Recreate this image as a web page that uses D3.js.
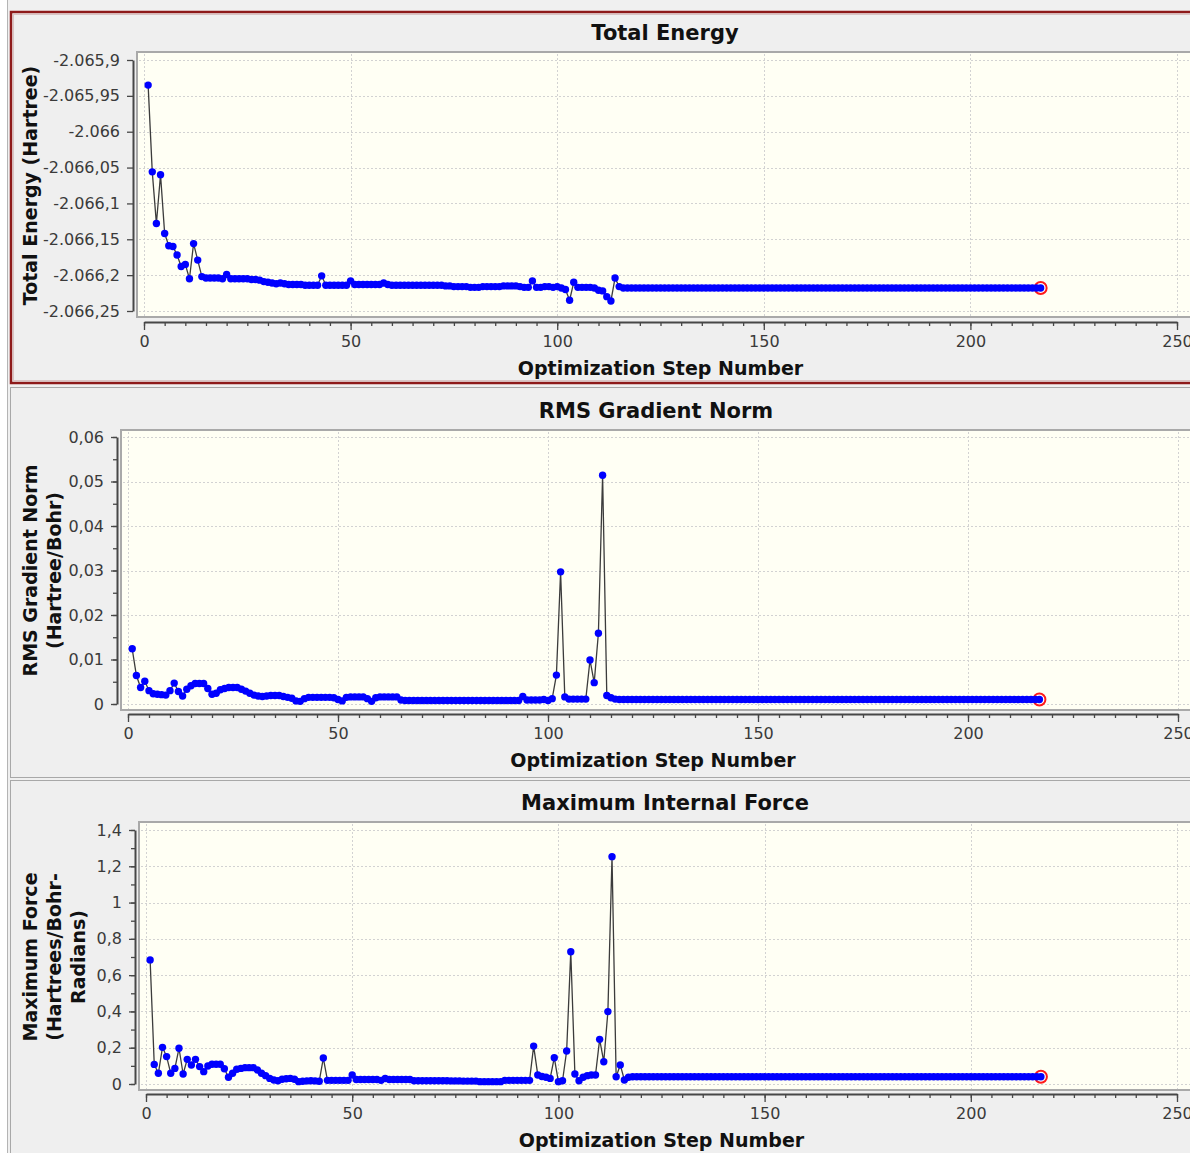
<!DOCTYPE html>
<html>
<head>
<meta charset="utf-8">
<script src="https://cdn.jsdelivr.net/npm/d3@7"></script>
<style>
  body { margin: 0; background: #ffffff; }
  svg { display: block; }
</style>
</head>
<body>
<div id="chart"></div>
<script>
// Optimization data, one value per step (step 1 .. 217)
var energy = [
  -2.065935, -2.066056, -2.066128, -2.066060, -2.066142, -2.066159, -2.066160, -2.066172, -2.066188, -2.066185,
  -2.066205, -2.066156, -2.066179, -2.066202, -2.066204, -2.066204, -2.066204, -2.066204, -2.066205, -2.066199,
  -2.066205, -2.066205, -2.066205, -2.066205, -2.066205, -2.066206, -2.066206, -2.066207, -2.066209, -2.066210,
  -2.066211, -2.066212, -2.066211, -2.066212, -2.066213, -2.066213, -2.066213, -2.066213, -2.066214, -2.066214,
  -2.066214, -2.066214, -2.066201, -2.066214, -2.066214, -2.066214, -2.066214, -2.066214, -2.066214, -2.066208,
  -2.066213, -2.066213, -2.066213, -2.066213, -2.066213, -2.066213, -2.066213, -2.066211, -2.066213, -2.066214,
  -2.066214, -2.066214, -2.066214, -2.066214, -2.066214, -2.066214, -2.066214, -2.066214, -2.066214, -2.066214,
  -2.066214, -2.066214, -2.066215, -2.066215, -2.066216, -2.066216, -2.066216, -2.066216, -2.066217, -2.066217,
  -2.066217, -2.066216, -2.066216, -2.066216, -2.066216, -2.066216, -2.066215, -2.066215, -2.066215, -2.066215,
  -2.066216, -2.066217, -2.066217, -2.066208, -2.066217, -2.066217, -2.066216, -2.066216, -2.066217, -2.066216,
  -2.066218, -2.066220, -2.066235, -2.066210, -2.066217, -2.066217, -2.066217, -2.066217, -2.066218, -2.066221,
  -2.066222, -2.066230, -2.066236, -2.066204, -2.066216, -2.066218, -2.066218, -2.066218, -2.066218, -2.066218,
  -2.066218, -2.066218, -2.066218, -2.066218, -2.066218, -2.066218, -2.066218, -2.066218, -2.066218, -2.066218,
  -2.066218, -2.066218, -2.066218, -2.066218, -2.066218, -2.066218, -2.066218, -2.066218, -2.066218, -2.066218,
  -2.066218, -2.066218, -2.066218, -2.066218, -2.066218, -2.066218, -2.066218, -2.066218, -2.066218, -2.066218,
  -2.066218, -2.066218, -2.066218, -2.066218, -2.066218, -2.066218, -2.066218, -2.066218, -2.066218, -2.066218,
  -2.066218, -2.066218, -2.066218, -2.066218, -2.066218, -2.066218, -2.066218, -2.066218, -2.066218, -2.066218,
  -2.066218, -2.066218, -2.066218, -2.066218, -2.066218, -2.066218, -2.066218, -2.066218, -2.066218, -2.066218,
  -2.066218, -2.066218, -2.066218, -2.066218, -2.066218, -2.066218, -2.066218, -2.066218, -2.066218, -2.066218,
  -2.066218, -2.066218, -2.066218, -2.066218, -2.066218, -2.066218, -2.066218, -2.066218, -2.066218, -2.066218,
  -2.066218, -2.066218, -2.066218, -2.066218, -2.066218, -2.066218, -2.066218, -2.066218, -2.066218, -2.066218,
  -2.066218, -2.066218, -2.066218, -2.066218, -2.066218, -2.066218, -2.066218
];

var rmsGrad = [
  0.0124, 0.0064, 0.0037, 0.0051, 0.0030, 0.0023, 0.0022, 0.0021, 0.0020, 0.0030,
  0.0047, 0.0028, 0.0018, 0.0033, 0.0041, 0.0046, 0.0046, 0.0046, 0.0035, 0.0022,
  0.0024, 0.0032, 0.0035, 0.0037, 0.0037, 0.0037, 0.0033, 0.0029, 0.0024, 0.0020,
  0.0018, 0.0017, 0.0018, 0.0019, 0.0019, 0.0019, 0.0017, 0.0015, 0.0013, 0.0007,
  0.0006, 0.0012, 0.0015, 0.0015, 0.0015, 0.0015, 0.0015, 0.0015, 0.0014, 0.0010,
  0.0007, 0.0015, 0.0016, 0.0016, 0.0016, 0.0016, 0.0012, 0.0006, 0.0014, 0.0016,
  0.0016, 0.0016, 0.0016, 0.0016, 0.0009, 0.0008, 0.0008, 0.0008, 0.0008, 0.0008,
  0.0008, 0.0008, 0.0008, 0.0008, 0.0008, 0.0008, 0.0008, 0.0008, 0.0008, 0.0008,
  0.0008, 0.0008, 0.0008, 0.0008, 0.0008, 0.0008, 0.0008, 0.0008, 0.0008, 0.0008,
  0.0008, 0.0008, 0.0008, 0.0017, 0.0009, 0.0009, 0.0009, 0.0009, 0.0010, 0.0008,
  0.0012, 0.0065, 0.0297, 0.0016, 0.0011, 0.0011, 0.0011, 0.0011, 0.0011, 0.0099,
  0.0048, 0.0159, 0.0514, 0.0019, 0.0014, 0.0011, 0.0010, 0.0010, 0.0010, 0.0010,
  0.0010, 0.0010, 0.0010, 0.0010, 0.0010, 0.0010, 0.0010, 0.0010, 0.0010, 0.0010,
  0.0010, 0.0010, 0.0010, 0.0010, 0.0010, 0.0010, 0.0010, 0.0010, 0.0010, 0.0010,
  0.0010, 0.0010, 0.0010, 0.0010, 0.0010, 0.0010, 0.0010, 0.0010, 0.0010, 0.0010,
  0.0010, 0.0010, 0.0010, 0.0010, 0.0010, 0.0010, 0.0010, 0.0010, 0.0010, 0.0010,
  0.0010, 0.0010, 0.0010, 0.0010, 0.0010, 0.0010, 0.0010, 0.0010, 0.0010, 0.0010,
  0.0010, 0.0010, 0.0010, 0.0010, 0.0010, 0.0010, 0.0010, 0.0010, 0.0010, 0.0010,
  0.0010, 0.0010, 0.0010, 0.0010, 0.0010, 0.0010, 0.0010, 0.0010, 0.0010, 0.0010,
  0.0010, 0.0010, 0.0010, 0.0010, 0.0010, 0.0010, 0.0010, 0.0010, 0.0010, 0.0010,
  0.0010, 0.0010, 0.0010, 0.0010, 0.0010, 0.0010, 0.0010, 0.0010, 0.0010, 0.0010,
  0.0010, 0.0010, 0.0010, 0.0010, 0.0010, 0.0010, 0.0010
];

var maxForce = [
  0.684, 0.108, 0.059, 0.202, 0.151, 0.059, 0.086, 0.197, 0.055, 0.136,
  0.105, 0.136, 0.096, 0.068, 0.099, 0.109, 0.109, 0.109, 0.084, 0.037,
  0.059, 0.081, 0.086, 0.090, 0.090, 0.090, 0.077, 0.059, 0.046, 0.031,
  0.022, 0.018, 0.026, 0.029, 0.031, 0.026, 0.013, 0.015, 0.017, 0.018,
  0.017, 0.015, 0.143, 0.020, 0.020, 0.020, 0.020, 0.020, 0.020, 0.050,
  0.025, 0.025, 0.025, 0.025, 0.025, 0.025, 0.020, 0.030, 0.025, 0.025,
  0.025, 0.025, 0.025, 0.025, 0.018, 0.018, 0.018, 0.018, 0.018, 0.018,
  0.018, 0.018, 0.018, 0.017, 0.017, 0.017, 0.016, 0.016, 0.016, 0.016,
  0.013, 0.013, 0.013, 0.013, 0.013, 0.013, 0.020, 0.020, 0.020, 0.020,
  0.020, 0.020, 0.020, 0.209, 0.050, 0.041, 0.037, 0.031, 0.145, 0.013,
  0.018, 0.182, 0.729, 0.055, 0.018, 0.037, 0.046, 0.050, 0.050, 0.246,
  0.123, 0.399, 1.253, 0.040, 0.105, 0.022, 0.037, 0.040, 0.040, 0.040,
  0.040, 0.040, 0.040, 0.040, 0.040, 0.040, 0.040, 0.040, 0.040, 0.040,
  0.040, 0.040, 0.040, 0.040, 0.040, 0.040, 0.040, 0.040, 0.040, 0.040,
  0.040, 0.040, 0.040, 0.040, 0.040, 0.040, 0.040, 0.040, 0.040, 0.040,
  0.040, 0.040, 0.040, 0.040, 0.040, 0.040, 0.040, 0.040, 0.040, 0.040,
  0.040, 0.040, 0.040, 0.040, 0.040, 0.040, 0.040, 0.040, 0.040, 0.040,
  0.040, 0.040, 0.040, 0.040, 0.040, 0.040, 0.040, 0.040, 0.040, 0.040,
  0.040, 0.040, 0.040, 0.040, 0.040, 0.040, 0.040, 0.040, 0.040, 0.040,
  0.040, 0.040, 0.040, 0.040, 0.040, 0.040, 0.040, 0.040, 0.040, 0.040,
  0.040, 0.040, 0.040, 0.040, 0.040, 0.040, 0.040, 0.040, 0.040, 0.040,
  0.040, 0.040, 0.040, 0.040, 0.040, 0.040, 0.040
];

// tick values and their labels (comma decimals as in the original)
var energyTicks = [-2.0659, -2.06595, -2.066, -2.06605, -2.0661, -2.06615, -2.0662, -2.06625];
var energyTickLabels = ["-2.065,9", "-2.065,95", "-2.066", "-2.066,05", "-2.066,1", "-2.066,15", "-2.066,2", "-2.066,25"];
var rmsTicks = [0, 0.01, 0.02, 0.03, 0.04, 0.05, 0.06];
var rmsTickLabels = ["0", "0,01", "0,02", "0,03", "0,04", "0,05", "0,06"];
var forceTicks = [0, 0.2, 0.4, 0.6, 0.8, 1, 1.2, 1.4];
var forceTickLabels = ["0", "0,2", "0,4", "0,6", "0,8", "1", "1,2", "1,4"];
var stepTicks = [0, 50, 100, 150, 200, 250];

var svgWidth = 1190;
var svgHeight = 1153;

var svg = d3.select("#chart")
  .append("svg")
  .attr("width", svgWidth)
  .attr("height", svgHeight)
  .style("font-family", "'DejaVu Sans', Verdana, sans-serif");

// window background
svg.append("rect")
  .attr("x", 8).attr("y", 0)
  .attr("width", svgWidth - 8).attr("height", svgHeight)
  .attr("fill", "#f0f0f0");
svg.append("line")
  .attr("x1", 7.5).attr("x2", 7.5).attr("y1", 0).attr("y2", svgHeight)
  .attr("stroke", "#b4b4b4");

// layout of the three stacked panels (pixels); yRange = [pixel of lowest tick, pixel of highest tick]
var panels = [
  {
    values: energy, title: "Total Energy", yTitle: ["Total Energy (Hartree)"],
    ticks: energyTicks, labels: energyTickLabels, minorStep: null,
    boxTop: 12, boxBottom: 383, selected: true,
    plotLeft: 137, plotTop: 52, plotBottom: 317,
    yAxisX: 133, xAxisY: 322, xRange: [144, 1177], yRange: [311, 60], titleX: 665
  },
  {
    values: rmsGrad, title: "RMS Gradient Norm", yTitle: ["RMS Gradient Norm", "(Hartree/Bohr)"],
    ticks: rmsTicks, labels: rmsTickLabels, minorStep: 0.005,
    boxTop: 387, boxBottom: 777, selected: false,
    plotLeft: 121, plotTop: 430, plotBottom: 710,
    yAxisX: 117, xAxisY: 714, xRange: [128, 1178], yRange: [704, 437], titleX: 656
  },
  {
    values: maxForce, title: "Maximum Internal Force", yTitle: ["Maximum Force", "(Hartrees/Bohr-", "Radians)"],
    ticks: forceTicks, labels: forceTickLabels, minorStep: 0.1,
    boxTop: 780, boxBottom: 1160, selected: false,
    plotLeft: 139, plotTop: 822, plotBottom: 1090,
    yAxisX: 135, xAxisY: 1094, xRange: [146, 1177], yRange: [1084, 830], titleX: 665
  }
];

panels.forEach(function(p) {
  var g = svg.append("g");

  // panel frame
  if (p.selected) {
    g.append("rect")
      .attr("x", 11).attr("y", p.boxTop)
      .attr("width", svgWidth + 10).attr("height", p.boxBottom - p.boxTop)
      .attr("fill", "#efefef")
      .attr("stroke", "#8e1a1a").attr("stroke-width", 2.5);
    g.append("rect")
      .attr("x", 13.5).attr("y", p.boxTop + 2.5)
      .attr("width", svgWidth + 10).attr("height", p.boxBottom - p.boxTop - 5)
      .attr("fill", "none")
      .attr("stroke", "#d9c4c4").attr("stroke-width", 1);
  } else {
    g.append("rect")
      .attr("x", 10.5).attr("y", p.boxTop + 0.5)
      .attr("width", svgWidth + 10).attr("height", p.boxBottom - p.boxTop)
      .attr("fill", "#efefef")
      .attr("stroke", "#a8a8a8").attr("stroke-width", 1);
  }

  // scales
  var x = d3.scaleLinear().domain([0, 250]).range(p.xRange);
  var yExt = d3.extent(p.ticks);
  var y = d3.scaleLinear().domain(yExt).range(p.yRange);

  // plot area
  g.append("rect")
    .attr("x", p.plotLeft).attr("y", p.plotTop)
    .attr("width", svgWidth - p.plotLeft + 10).attr("height", p.plotBottom - p.plotTop)
    .attr("fill", "#fffff4")
    .attr("stroke", "#a9a9a9").attr("stroke-width", 2);

  // dotted grid
  g.selectAll(".hgrid").data(p.ticks).enter().append("line")
    .attr("x1", p.plotLeft + 2).attr("x2", svgWidth)
    .attr("y1", d => Math.round(y(d)) + 0.5).attr("y2", d => Math.round(y(d)) + 0.5)
    .attr("stroke", "#d2d2d2").attr("stroke-dasharray", "2,2");
  g.selectAll(".vgrid").data(stepTicks).enter().append("line")
    .attr("x1", d => Math.round(x(d)) + 0.5).attr("x2", d => Math.round(x(d)) + 0.5)
    .attr("y1", p.plotTop + 2).attr("y2", p.plotBottom - 1)
    .attr("stroke", "#d2d2d2").attr("stroke-dasharray", "2,2");

  // y axis
  var leftAxis = d3.axisLeft(y)
    .tickValues(p.ticks)
    .tickFormat((d, i) => p.labels[i])
    .tickSize(6).tickSizeOuter(0).tickPadding(7);
  g.append("g")
    .attr("transform", `translate(${p.yAxisX}, 0)`)
    .call(leftAxis);

  if (p.minorStep) {
    var minorVals = d3.range(yExt[0], yExt[1] + p.minorStep / 2, p.minorStep);
    g.append("g")
      .attr("transform", `translate(${p.yAxisX}, 0)`)
      .call(d3.axisLeft(y).tickValues(minorVals).tickFormat("").tickSize(4).tickSizeOuter(0))
      .call(a => a.select(".domain").remove());
  }

  // x axis: majors every 50, minors every 5
  g.append("g")
    .attr("transform", `translate(0, ${p.xAxisY})`)
    .call(d3.axisBottom(x).tickValues(stepTicks).tickFormat(d3.format("d"))
      .tickSize(8).tickSizeOuter(0).tickPadding(6));
  g.append("g")
    .attr("transform", `translate(0, ${p.xAxisY})`)
    .call(d3.axisBottom(x).tickValues(d3.range(0, 251, 5)).tickFormat("").tickSize(4).tickSizeOuter(0))
    .call(a => a.select(".domain").remove());

  g.selectAll(".domain").attr("stroke", "#474747").attr("stroke-width", 2);
  g.selectAll(".tick line").attr("stroke", "#474747").attr("stroke-width", 1.3);
  g.selectAll(".tick text")
    .attr("font-size", 16)
    .attr("font-family", "'DejaVu Sans', Verdana, sans-serif")
    .attr("fill", "#3a3a3a");

  // connecting line
  var line = d3.line()
    .x((d, i) => x(i + 1))
    .y(d => y(d));
  g.append("path")
    .datum(p.values)
    .attr("d", line)
    .attr("fill", "none")
    .attr("stroke", "#3c3c3c")
    .attr("stroke-width", 1.3);

  // current step marker (last point)
  var last = p.values.length - 1;
  g.append("circle")
    .attr("cx", x(last + 1)).attr("cy", y(p.values[last]))
    .attr("r", 6)
    .attr("fill", "#ffffff")
    .attr("stroke", "#ff1a1a").attr("stroke-width", 2);

  // points
  g.selectAll(".pt").data(p.values).enter().append("circle")
    .attr("cx", (d, i) => x(i + 1))
    .attr("cy", d => y(d))
    .attr("r", 3.7)
    .attr("fill", "#0000ff");

  // titles
  g.append("text")
    .attr("x", p.titleX).attr("y", p.plotTop - 20)
    .attr("dy", "0.36em")
    .attr("text-anchor", "middle")
    .attr("font-size", 21).attr("font-weight", "bold")
    .attr("fill", "#111")
    .text(p.title);

  g.append("text")
    .attr("x", (p.xRange[0] + p.xRange[1]) / 2).attr("y", p.xAxisY + 46)
    .attr("dy", "0.36em")
    .attr("text-anchor", "middle")
    .attr("font-size", 19).attr("font-weight", "bold")
    .attr("fill", "#111")
    .text("Optimization Step Number");

  var yMid = (p.yRange[0] + p.yRange[1]) / 2;
  p.yTitle.forEach(function(t, j) {
    g.append("text")
      .attr("transform", `translate(${30 + 24 * j}, ${yMid}) rotate(-90)`)
      .attr("dy", "0.36em")
      .attr("text-anchor", "middle")
      .attr("font-size", 19).attr("font-weight", "bold")
      .attr("fill", "#111")
      .text(t);
  });
});
</script>
</body>
</html>
